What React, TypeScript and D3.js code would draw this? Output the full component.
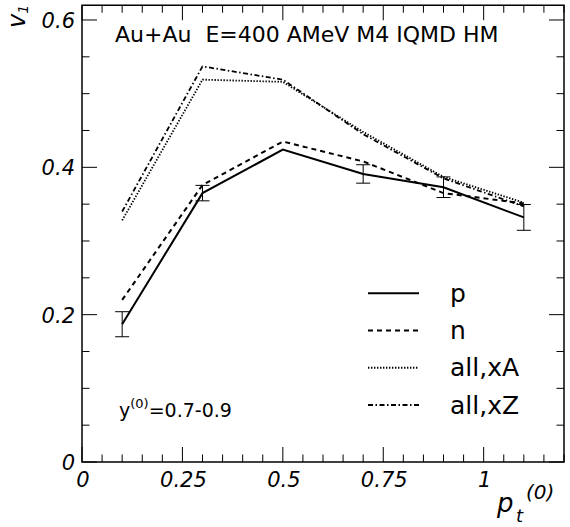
import React from 'react';
import * as d3 from 'd3';

// p_t^(0) bin centres
const ptBins = [0.1, 0.3, 0.5, 0.7, 0.9, 1.1];

// v1 per series
const protons = [0.187, 0.365, 0.424, 0.391, 0.373, 0.332];
const protonErr = [0.017, 0.0105, 0, 0.0125, 0.014, 0.0175];
const neutrons = [0.22, 0.376, 0.435, 0.408, 0.365, 0.351];
const allXA = [0.328, 0.519, 0.516, 0.448, 0.387, 0.352];
const allXZ = [0.34, 0.537, 0.519, 0.445, 0.385, 0.347];

const seriesNames = ['p', 'n', 'all,xA', 'all,xZ'];
const xTickLabels = ['0', '0.25', '0.5', '0.75', '1'];
const yTickLabels = ['0', '0.2', '0.4', '0.6'];

const title = 'Au+Au\u00a0\u00a0E=400 AMeV M4 IQMD HM';

const W = 570;
const H = 527;
const font = 'DejaVu Sans, sans-serif';

const dashes = [null, '5,4', '1.4,1.6', '5,2.5,1.5,2.5'];
const widths = [2, 2, 1.8, 1.8];

export default function App() {
  const x = d3.scaleLinear().domain([0, 1.2]).range([82, 564]);
  const y = d3.scaleLinear().domain([0, 0.62]).range([462, 462 - 0.62 * 736.7]);

  const [x0, x1] = x.range();
  const [y0, y1] = y.range();

  const line = d3.line<number>()
    .x((_, i) => x(ptBins[i]))
    .y((d) => y(d));

  const allSeries = [protons, neutrons, allXA, allXZ];

  const xMinor = d3.range(0, 1.2001, 0.05);
  const yMinor = d3.range(0, 0.6001, 0.05);
  const xMajor = xTickLabels.map(Number);
  const yMajor = yTickLabels.map(Number);
  const isMajor = (v: number, majors: number[]) => majors.some((m) => Math.abs(m - v) < 1e-6);

  const legendY = d3.scaleLinear().domain([0, 3]).range([293.3, 405]);

  return (
    <svg width={W} height={H} style={{ position: 'absolute', left: 0, top: 0, background: '#fff' }}
      fontFamily={font}>
      <rect x={0} y={0} width={W} height={H} fill="#fff" />

      {/* frame */}
      <rect x={x0} y={y1} width={x1 - x0} height={y0 - y1} fill="none" stroke="#000" strokeWidth={1.5} />

      {/* ticks on all four sides, pointing in */}
      {xMinor.map((v) => {
        const len = isMajor(v, xMajor) ? 15 : 7.5;
        return (
          <g key={'xt' + v} stroke="#000" strokeWidth={1}>
            <line x1={x(v)} x2={x(v)} y1={y0} y2={y0 - len} />
            <line x1={x(v)} x2={x(v)} y1={y1} y2={y1 + len} />
          </g>
        );
      })}
      {yMinor.map((v) => {
        const len = isMajor(v, yMajor) ? 15 : 7.5;
        return (
          <g key={'yt' + v} stroke="#000" strokeWidth={1}>
            <line x1={x0} x2={x0 + len} y1={y(v)} y2={y(v)} />
            <line x1={x1} x2={x1 - len} y1={y(v)} y2={y(v)} />
          </g>
        );
      })}

      {/* tick labels */}
      {xTickLabels.map((t) => (
        <text key={'xl' + t} x={x(+t) + 1} y={487} textAnchor="middle" fontSize={21} fontStyle="italic">{t}</text>
      ))}
      {yTickLabels.map((t) => (
        <text key={'yl' + t} x={75} y={y(+t) + 8} textAnchor="end" fontSize={21} fontStyle="italic">{t}</text>
      ))}

      {/* axis titles */}
      <text transform="translate(25,28) rotate(-90)" fontStyle="italic">
        <tspan fontSize={24}>v</tspan>
        <tspan fontSize={14} dy={3}>1</tspan>
      </text>
      <text fontStyle="italic">
        <tspan x={497} y={512} fontSize={26}>p</tspan>
        <tspan x={516} y={522} fontSize={18}>t</tspan>
        <tspan x={526} y={499} fontSize={20}>(0)</tspan>
      </text>

      {/* curves */}
      {allSeries.map((s, i) => (
        <path key={'s' + i} d={line(s) ?? ''} fill="none" stroke="#000"
          strokeWidth={widths[i]} strokeDasharray={dashes[i] ?? undefined} />
      ))}

      {/* proton error bars */}
      {protons.map((v, i) => protonErr[i] > 0 && (
        <g key={'e' + i} stroke="#000" strokeWidth={1}>
          <line x1={x(ptBins[i])} x2={x(ptBins[i])} y1={y(v - protonErr[i])} y2={y(v + protonErr[i])} />
          <line x1={x(ptBins[i]) - 7} x2={x(ptBins[i]) + 7} y1={y(v - protonErr[i])} y2={y(v - protonErr[i])} />
          <line x1={x(ptBins[i]) - 7} x2={x(ptBins[i]) + 7} y1={y(v + protonErr[i])} y2={y(v + protonErr[i])} />
        </g>
      ))}

      {/* header text */}
      <text x={115} y={42} fontSize={22}>{title}</text>

      {/* rapidity window */}
      <text x={119} y={417} fontSize={19}>
        <tspan>y</tspan>
        <tspan fontSize={13} dy={-9}>(0)</tspan>
        <tspan dy={9}>=0.7-0.9</tspan>
      </text>

      {/* legend */}
      {seriesNames.map((name, i) => (
        <g key={'lg' + i}>
          <line x1={368} x2={419} y1={legendY(i)} y2={legendY(i)} stroke="#000"
            strokeWidth={widths[i]} strokeDasharray={dashes[i] ?? undefined} />
          <text x={450} y={legendY(i) + 8.5} fontSize={25}>{name}</text>
        </g>
      ))}
    </svg>
  );
}
